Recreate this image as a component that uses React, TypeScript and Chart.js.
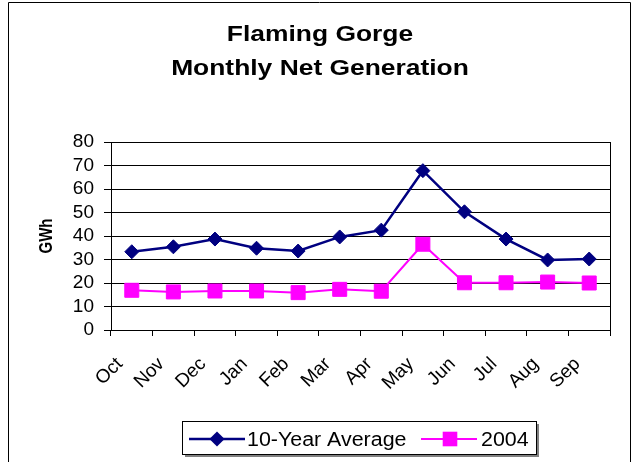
import { useEffect, useRef } from "react";
import { Chart, registerables } from "chart.js";

Chart.register(...registerables);

const months = ["Oct", "Nov", "Dec", "Jan", "Feb", "Mar", "Apr", "May", "Jun", "Jul", "Aug", "Sep"];
const tenYearAverage = [33.3, 35.4, 38.7, 34.8, 33.6, 39.6, 42.5, 67.8, 50.3, 38.7, 29.8, 30.2];
const gen2004 = [16.9, 16.2, 16.6, 16.6, 15.9, 17.3, 16.5, 36.5, 20.1, 20.1, 20.4, 20.0];
const yMin = 0;
const yMax = 80;
const yStep = 10;
const titleLines = ["Flaming Gorge", "Monthly Net Generation"];
const yAxisTitle = "GWh";
const seriesNames = ["10-Year Average", "2004"];

const NAVY = "#000080";
const MAGENTA = "#FF00FF";
const FONT = "'Liberation Sans', Arial, Helvetica, sans-serif";

const decorPlugin = {
  id: "decor",
  afterDraw(chart: any) {
    const ctx = chart.ctx as CanvasRenderingContext2D;
    const area = chart.chartArea;
    const xScale = chart.scales.x;
    ctx.save();

    // outer frame (open at bottom)
    ctx.strokeStyle = "#000";
    ctx.lineWidth = 1;
    ctx.beginPath();
    ctx.moveTo(8.5, 470);
    ctx.lineTo(8.5, 2.5);
    ctx.lineTo(630.5, 2.5);
    ctx.lineTo(630.5, 470);
    ctx.stroke();

    // right border of plot area
    const rx = Math.floor(area.right) + 0.5;
    ctx.beginPath();
    ctx.moveTo(rx, area.top);
    ctx.lineTo(rx, area.bottom);
    ctx.stroke();

    // x category labels, rotated 45 degrees
    ctx.fillStyle = "#000";
    ctx.font = `19px ${FONT}`;
    ctx.textAlign = "right";
    ctx.textBaseline = "middle";
    months.forEach((m, i) => {
      const px = xScale.getPixelForValue(i);
      ctx.save();
      ctx.translate(px - 12, area.bottom + 31);
      ctx.rotate(-Math.PI / 4);
      ctx.fillText(m, 0, 0);
      ctx.restore();
    });

    // title
    ctx.font = `bold 22px ${FONT}`;
    ctx.textAlign = "center";
    ctx.textBaseline = "alphabetic";
    const baselines = [41, 75];
    titleLines.forEach((t, i) => {
      ctx.save();
      ctx.translate(320, baselines[i]);
      ctx.scale(1.2, 1);
      ctx.fillText(t, 0, 0);
      ctx.restore();
    });

    // y axis title
    ctx.save();
    ctx.translate(46.5, (area.top + area.bottom) / 2);
    ctx.rotate(-Math.PI / 2);
    ctx.scale(1, 1.27);
    ctx.font = `bold 15px ${FONT}`;
    ctx.textAlign = "center";
    ctx.textBaseline = "middle";
    ctx.fillText(yAxisTitle, 0, 0);
    ctx.restore();

    // legend
    const bx = 182, by = 421, bw = 354, bh = 33;
    ctx.fillStyle = "#808080";
    ctx.fillRect(bx + 3, by + 3, bw, bh);
    ctx.fillStyle = "#fff";
    ctx.fillRect(bx, by, bw, bh);
    ctx.strokeStyle = "#000";
    ctx.strokeRect(bx + 0.5, by + 0.5, bw, bh);

    const ly = 439;
    const ds = chart.data.datasets;
    // series 1
    ctx.strokeStyle = ds[0].borderColor;
    ctx.lineWidth = 2.5;
    ctx.beginPath();
    ctx.moveTo(189, ly);
    ctx.lineTo(245, ly);
    ctx.stroke();
    ctx.fillStyle = ds[0].borderColor;
    ctx.beginPath();
    const dcx = 217, dr = 7.6;
    ctx.moveTo(dcx, ly - dr);
    ctx.lineTo(dcx + dr, ly);
    ctx.lineTo(dcx, ly + dr);
    ctx.lineTo(dcx - dr, ly);
    ctx.closePath();
    ctx.fill();
    // series 2
    ctx.strokeStyle = ds[1].borderColor;
    ctx.lineWidth = 2;
    ctx.beginPath();
    ctx.moveTo(421, ly);
    ctx.lineTo(477, ly);
    ctx.stroke();
    ctx.fillStyle = ds[1].borderColor;
    ctx.fillRect(450 - 7.3, ly - 7.3, 14.6, 14.6);

    ctx.fillStyle = "#000";
    ctx.font = `20px ${FONT}`;
    ctx.textAlign = "left";
    ctx.textBaseline = "middle";
    const textX = [247, 481];
    seriesNames.forEach((n, i) => {
      ctx.save();
      ctx.translate(textX[i], ly + 1);
      ctx.scale(1.07, 1);
      ctx.fillText(n, 0, 0);
      ctx.restore();
    });

    ctx.restore();
  },
};

export default function App() {
  const ref = useRef<HTMLCanvasElement>(null);

  useEffect(() => {
    const canvas = ref.current;
    if (!canvas) return;
    Chart.defaults.font.family = FONT;
    const chart = new Chart(canvas, {
      type: "line",
      data: {
        labels: months,
        datasets: [
          {
            label: seriesNames[0],
            data: tenYearAverage,
            borderColor: NAVY,
            backgroundColor: NAVY,
            borderWidth: 2.5,
            pointStyle: "rectRot",
            pointRadius: 7,
            pointHoverRadius: 7,
            pointBorderWidth: 1,
            pointBackgroundColor: NAVY,
            pointBorderColor: NAVY,
            tension: 0,
            fill: false,
          },
          {
            label: seriesNames[1],
            data: gen2004,
            borderColor: MAGENTA,
            backgroundColor: MAGENTA,
            borderWidth: 2,
            pointStyle: "rect",
            pointRadius: 9.9,
            pointHoverRadius: 9.9,
            pointBorderWidth: 1,
            pointBackgroundColor: MAGENTA,
            pointBorderColor: MAGENTA,
            tension: 0,
            fill: false,
          },
        ],
      },
      options: {
        responsive: false,
        animation: false,
        devicePixelRatio: 1,
        events: [],
        layout: { padding: { left: 0, top: 142, right: 22, bottom: 126 } },
        plugins: {
          legend: { display: false },
          title: { display: false },
          tooltip: { enabled: false },
        },
        scales: {
          x: {
            type: "category",
            offset: true,
            grid: {
              offset: true,
              drawOnChartArea: false,
              drawTicks: true,
              tickLength: 6,
              color: "#000",
              lineWidth: 1,
            },
            border: { display: true, color: "#000", width: 1 },
            ticks: { display: false, autoSkip: false },
            afterFit: (s: any) => {
              s.height = 6;
            },
          },
          y: {
            min: yMin,
            max: yMax,
            ticks: {
              stepSize: yStep,
              autoSkip: false,
              padding: 10,
              color: "#000",
              font: { size: 19, family: FONT },
            },
            grid: { color: "#000", lineWidth: 1, drawTicks: true, tickLength: 7 },
            border: { display: true, color: "#000", width: 1 },
            afterFit: (s: any) => {
              s.width = 111;
            },
          },
        },
      },
      plugins: [decorPlugin],
    });
    return () => chart.destroy();
  }, []);

  return (
    <div style={{ position: "fixed", left: 0, top: 0, width: 632, height: 462, background: "#fff" }}>
      <canvas ref={ref} width={632} height={462} />
    </div>
  );
}
